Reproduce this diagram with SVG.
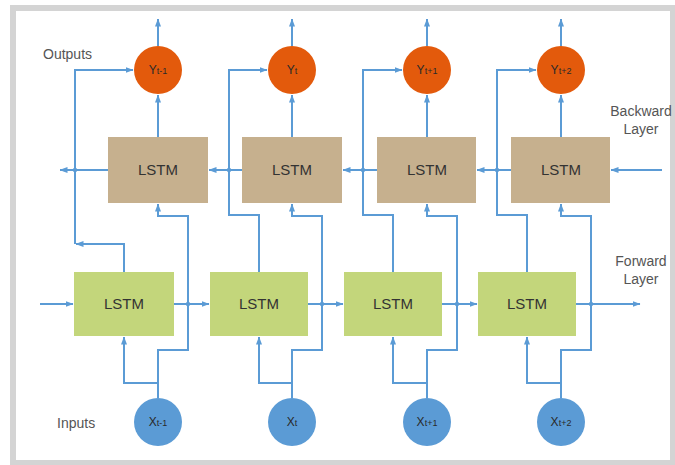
<svg xmlns="http://www.w3.org/2000/svg" width="675" height="465" viewBox="0 0 675 465">
  <defs>
    <marker id="arr" viewBox="0 0 8 6" refX="7.5" refY="3" markerWidth="8" markerHeight="6" markerUnits="userSpaceOnUse" orient="auto">
      <path d="M0,0 L8,3 L0,6 Z" fill="#5B9BD5"/>
    </marker>
    <style>
      .frame { fill: #ffffff; stroke: #d4d4d4; stroke-width: 6; }
      .wire { fill: none; stroke: #5B9BD5; stroke-width: 2; }
      .hop { fill: #5B9BD5; }
      .fwd { fill: #C3D67B; }
      .bwd { fill: #C6B08E; }
      .out { fill: #E35A0C; }
      .inp { fill: #5B9BD5; }
      .cell { font-family: "Liberation Sans", Arial, sans-serif; font-size: 15px; fill: #333333; text-anchor: middle; }
      .sym { font-family: "Liberation Sans", Arial, sans-serif; font-size: 12px; fill: #2a2a2a; text-anchor: middle; }
      .sub { font-size: 9px; }
      .lbl { font-family: "Liberation Sans", Arial, sans-serif; font-size: 14px; fill: #555555; }
    </style>
  </defs>

  <rect class="frame" x="13" y="8" width="660" height="455"/>

  <!-- connectors -->
  <g id="connectors" class="wire">
    <!-- outputs leaving the y nodes -->
    <path d="M158,46 V19" marker-end="url(#arr)"/>
    <path d="M292,46 V19" marker-end="url(#arr)"/>
    <path d="M427,46 V19" marker-end="url(#arr)"/>
    <path d="M561,46 V19" marker-end="url(#arr)"/>
    <!-- backward cells up to y nodes -->
    <path d="M158,137 V95" marker-end="url(#arr)"/>
    <path d="M292,137 V95" marker-end="url(#arr)"/>
    <path d="M427,137 V95" marker-end="url(#arr)"/>
    <path d="M561,137 V95" marker-end="url(#arr)"/>
    <!-- backward chain, right to left -->
    <path d="M662,170 H611" marker-end="url(#arr)"/>
    <path d="M511,170 H477" marker-end="url(#arr)"/>
    <path d="M377,170 H343" marker-end="url(#arr)"/>
    <path d="M242,170 H209" marker-end="url(#arr)"/>
    <path d="M108,170 H60" marker-end="url(#arr)"/>
    <!-- forward chain, left to right -->
    <path d="M40,304 H73" marker-end="url(#arr)"/>
    <path d="M174,304 H209" marker-end="url(#arr)"/>
    <path d="M308,304 H343" marker-end="url(#arr)"/>
    <path d="M442,304 H477" marker-end="url(#arr)"/>
    <path d="M576,304 H640" marker-end="url(#arr)"/>
    <!-- forward cells up to y nodes -->
    <path d="M124,272 V244 H76" marker-end="url(#arr)"/>
    <path d="M75,244 V70 H133" marker-end="url(#arr)"/>
    <path d="M259,272 V215 H229 V70 H267" marker-end="url(#arr)"/>
    <path d="M393,272 V215 H363 V70 H402" marker-end="url(#arr)"/>
    <path d="M527,272 V215 H497 V70 H536" marker-end="url(#arr)"/>
    <!-- inputs to forward cells -->
    <path d="M158,398 V383 H124 V337" marker-end="url(#arr)"/>
    <path d="M292,398 V383 H259 V337" marker-end="url(#arr)"/>
    <path d="M427,398 V383 H393 V337" marker-end="url(#arr)"/>
    <path d="M561,398 V383 H527 V337" marker-end="url(#arr)"/>
    <!-- inputs to backward cells -->
    <path d="M158,383 V350 H188 V216 H158 V204" marker-end="url(#arr)"/>
    <path d="M292,383 V350 H322 V216 H292 V204" marker-end="url(#arr)"/>
    <path d="M427,383 V350 H457 V216 H427 V204" marker-end="url(#arr)"/>
    <path d="M561,383 V350 H591 V216 H561 V204" marker-end="url(#arr)"/>
    <!-- line hops at crossings -->
    <g class="hop" stroke="none">
      <circle cx="75" cy="170" r="2.2"/>
      <circle cx="229" cy="170" r="2.2"/>
      <circle cx="363" cy="170" r="2.2"/>
      <circle cx="497" cy="170" r="2.2"/>
      <circle cx="188" cy="304" r="2.2"/>
      <circle cx="322" cy="304" r="2.2"/>
      <circle cx="457" cy="304" r="2.2"/>
      <circle cx="591" cy="304" r="2.2"/>
    </g>
  </g>

  <!-- output nodes -->
  <g id="y_t-1"><circle class="out" cx="158" cy="70" r="24"/><text class="sym" x="158" y="74">Y<tspan class="sub">t-1</tspan></text></g>
  <g id="y_t"><circle class="out" cx="292" cy="70" r="24"/><text class="sym" x="292" y="74">Y<tspan class="sub">t</tspan></text></g>
  <g id="y_t+1"><circle class="out" cx="427" cy="70" r="24"/><text class="sym" x="427" y="74">Y<tspan class="sub">t+1</tspan></text></g>
  <g id="y_t+2"><circle class="out" cx="561" cy="70" r="24"/><text class="sym" x="561" y="74">Y<tspan class="sub">t+2</tspan></text></g>

  <!-- backward layer -->
  <g id="bwd_1"><rect class="bwd" x="108" y="137" width="100" height="66"/><text class="cell" x="158" y="175">LSTM</text></g>
  <g id="bwd_2"><rect class="bwd" x="242" y="137" width="100" height="66"/><text class="cell" x="292" y="175">LSTM</text></g>
  <g id="bwd_3"><rect class="bwd" x="377" y="137" width="99" height="66"/><text class="cell" x="427" y="175">LSTM</text></g>
  <g id="bwd_4"><rect class="bwd" x="511" y="137" width="99" height="66"/><text class="cell" x="561" y="175">LSTM</text></g>

  <!-- forward layer -->
  <g id="fwd_1"><rect class="fwd" x="74" y="272" width="100" height="64"/><text class="cell" x="124" y="309">LSTM</text></g>
  <g id="fwd_2"><rect class="fwd" x="210" y="272" width="98" height="64"/><text class="cell" x="259" y="309">LSTM</text></g>
  <g id="fwd_3"><rect class="fwd" x="344" y="272" width="98" height="64"/><text class="cell" x="393" y="309">LSTM</text></g>
  <g id="fwd_4"><rect class="fwd" x="478" y="272" width="98" height="64"/><text class="cell" x="527" y="309">LSTM</text></g>

  <!-- input nodes -->
  <g id="x_t-1"><circle class="inp" cx="158" cy="422" r="24"/><text class="sym" x="158" y="426">X<tspan class="sub">t-1</tspan></text></g>
  <g id="x_t"><circle class="inp" cx="292" cy="422" r="24"/><text class="sym" x="292" y="426">X<tspan class="sub">t</tspan></text></g>
  <g id="x_t+1"><circle class="inp" cx="427" cy="422" r="24"/><text class="sym" x="427" y="426">X<tspan class="sub">t+1</tspan></text></g>
  <g id="x_t+2"><circle class="inp" cx="561" cy="422" r="24"/><text class="sym" x="561" y="426">X<tspan class="sub">t+2</tspan></text></g>

  <!-- labels -->
  <g id="labels">
    <text class="lbl" x="43" y="59">Outputs</text>
    <text class="lbl" x="57" y="428">Inputs</text>
    <text class="lbl" x="641" y="116" text-anchor="middle">Backward</text>
    <text class="lbl" x="641" y="134" text-anchor="middle">Layer</text>
    <text class="lbl" x="641" y="266" text-anchor="middle">Forward</text>
    <text class="lbl" x="641" y="284" text-anchor="middle">Layer</text>
  </g>
</svg>
